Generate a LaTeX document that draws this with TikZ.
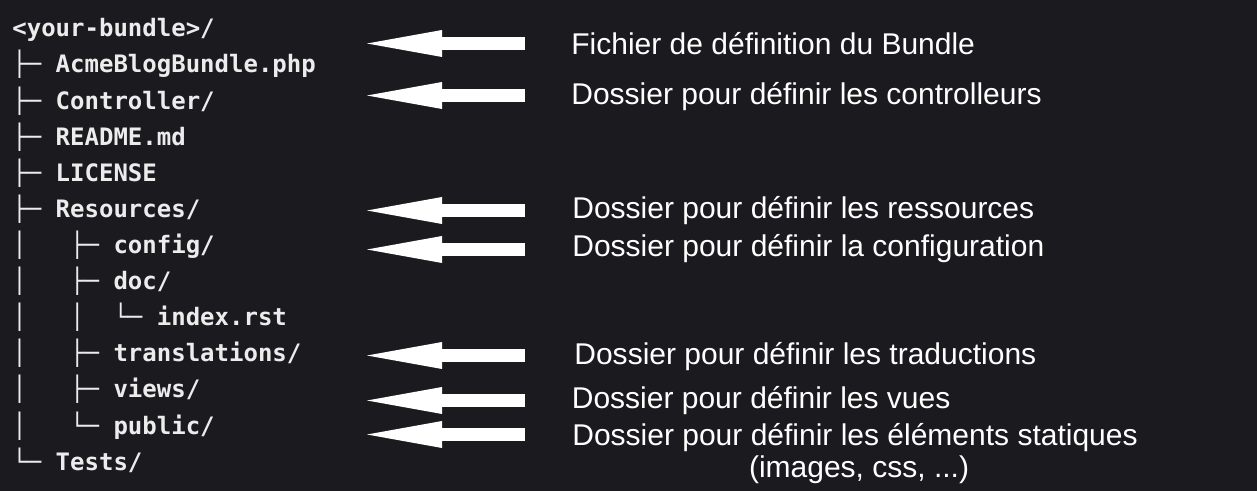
\documentclass[tikz,border=0pt]{standalone}
\usepackage{xcolor}
\usepackage{fontspec}
\usepackage{tikz}
\usetikzlibrary{positioning,arrows.meta,calc}
\newfontfamily\treefont{DejaVu Sans Mono}
\newfontfamily\descfont{Liberation Sans}
\definecolor{bgdark}{RGB}{27,27,31}
\definecolor{treefg}{RGB}{236,236,236}

\begin{document}
\begin{tikzpicture}[
  x=0.5pt, y=-0.5pt,
  row/.style={anchor=base west, inner sep=0pt, text=treefg,
              font=\treefont\bfseries\fontsize{12pt}{14pt}\selectfont},
  desc/.style={anchor=base west, inner sep=0pt, text=white,
               font=\descfont\fontsize{15pt}{18pt}\selectfont},
  bigarrow/.style={draw=white, line width=6.5pt,
                   -{Triangle[length=37.5pt, width=13.5pt, line width=0pt]}},
]
\fill[bgdark] (0,0) rectangle (1257,491);
\useasboundingbox (0,0) rectangle (1257,491);

\node[row] (root)   at (12,36.9)  {<your-bundle>/};
\node[row] (acme)   at (12,73.0)  {├─~AcmeBlogBundle.php};
\node[row] (ctrl)   at (12,109.1) {├─~Controller/};
\node[row] (readme) at (12,145.2) {├─~README.md};
\node[row] (lic)    at (12,181.3) {├─~LICENSE};
\node[row] (res)    at (12,217.4) {├─~Resources/};
\node[row] (cfg)    at (12,253.5) {│~~~├─~config/};
\node[row] (doc)    at (12,289.6) {│~~~├─~doc/};
\node[row] (idx)    at (12,325.7) {│~~~│~~└─~index.rst};
\node[row] (trans)  at (12,361.8) {│~~~├─~translations/};
\node[row] (views)  at (12,397.9) {│~~~├─~views/};
\node[row] (pub)    at (12,434.0) {│~~~└─~public/};
\node[row] (tests)  at (12,470.1) {└─~Tests/};

\node[desc] (dbundle) at (571,54.3)  {Fichier de définition du Bundle};
\node[desc] (dctrl)   at (571,104.3) {Dossier pour définir les controlleurs};
\node[desc] (dres)    at (572,218.3) {Dossier pour définir les ressources};
\node[desc] (dcfg)    at (572,256.7) {Dossier pour définir la configuration};
\node[desc] (dtrans)  at (574,364.3) {Dossier pour définir les traductions};
\node[desc] (dviews)  at (571.5,408.3) {Dossier pour définir les vues};
\node[desc] (dpub)    at (572,445.0) {Dossier pour définir les éléments statiques};
\node[desc, anchor=base] (dpub2) at ($(dpub.base)+(4,32)$) {(images, css, ...)};

\coordinate (sbundle) at (525,43.5);  \coordinate (tbundle) at (367,43.5);
\coordinate (sctrl)   at (525,95.5);  \coordinate (tctrl)   at (367,95.5);
\coordinate (sres)    at (525,210.5); \coordinate (tres)    at (367,210.5);
\coordinate (scfg)    at (525,249.5); \coordinate (tcfg)    at (367,249.5);
\coordinate (strans)  at (525,355.5); \coordinate (ttrans)  at (367,355.5);
\coordinate (sviews)  at (525,400.5); \coordinate (tviews)  at (367,400.5);
\coordinate (spub)    at (525,434.5); \coordinate (tpub)    at (367,434.5);

\draw[bigarrow] (sbundle) -- (tbundle);
\draw[bigarrow] (sctrl)   -- (tctrl);
\draw[bigarrow] (sres)    -- (tres);
\draw[bigarrow] (scfg)    -- (tcfg);
\draw[bigarrow] (strans)  -- (ttrans);
\draw[bigarrow] (sviews)  -- (tviews);
\draw[bigarrow] (spub)    -- (tpub);
\end{tikzpicture}
\end{document}
